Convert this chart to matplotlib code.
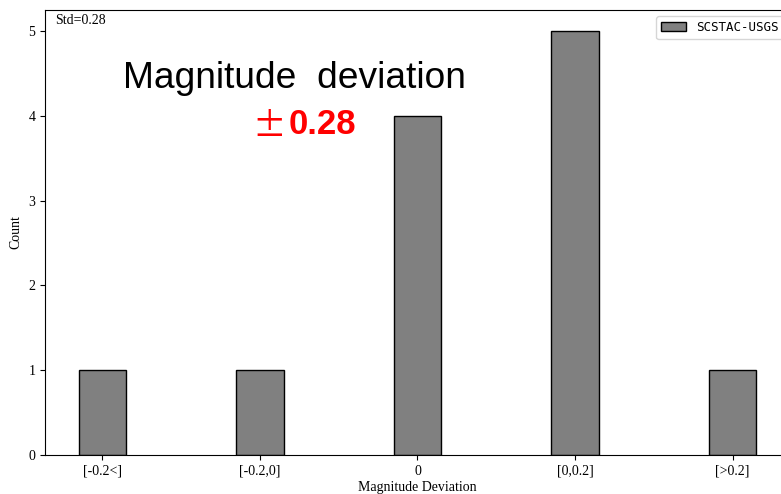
import matplotlib
matplotlib.use('Agg')
import matplotlib.pyplot as plt
import numpy as np

# Data
categories = ['[-0.2<]', '[-0.2,0]', '0', '[0,0.2]', '[>0.2]']
counts = [1, 1, 4, 5, 1]
series_name = 'SCSTAC-USGS'
std_value = 0.28

plt.rcParams['font.family'] = ['Liberation Serif', 'DejaVu Serif']

fig = plt.figure(figsize=(7.81, 4.94), dpi=100)
ax = fig.add_axes([45 / 781, 39 / 494, 745 / 781, 445 / 494])

x = np.arange(len(categories))
ax.bar(x, counts, width=0.3, color='grey', edgecolor='black', label=series_name)
ax.set_xticks(x)
ax.set_xticklabels(categories, fontsize=10)
ax.tick_params(axis='y', labelsize=10)
ax.set_xlabel('Magnitude Deviation', fontsize=10, labelpad=2)
ax.set_ylabel('Count', fontsize=10)

ax.text(0.013, 0.99, 'Std=%.2f' % std_value, transform=ax.transAxes,
        ha='left', va='top', fontsize=10)

# big annotation
fig.text(294 / 781, 1 - 79 / 494, 'Magnitude  deviation', ha='center', va='center',
         fontsize=26.7, family='Liberation Sans')
fig.text(269 / 781, 1 - 127 / 494, '\u00b1', ha='center', va='center',
         fontsize=24, color='red', family=['Noto Sans CJK SC', 'DejaVu Sans'])
fig.text(289 / 781, 1 - 124 / 494, '%.2f' % std_value, ha='left', va='center',
         fontsize=25, fontweight='bold', color='red', family='Liberation Sans')

leg = ax.legend(loc='upper right', prop={'family': 'DejaVu Sans Mono', 'size': 9})

fig.savefig('out.png', dpi=100)
